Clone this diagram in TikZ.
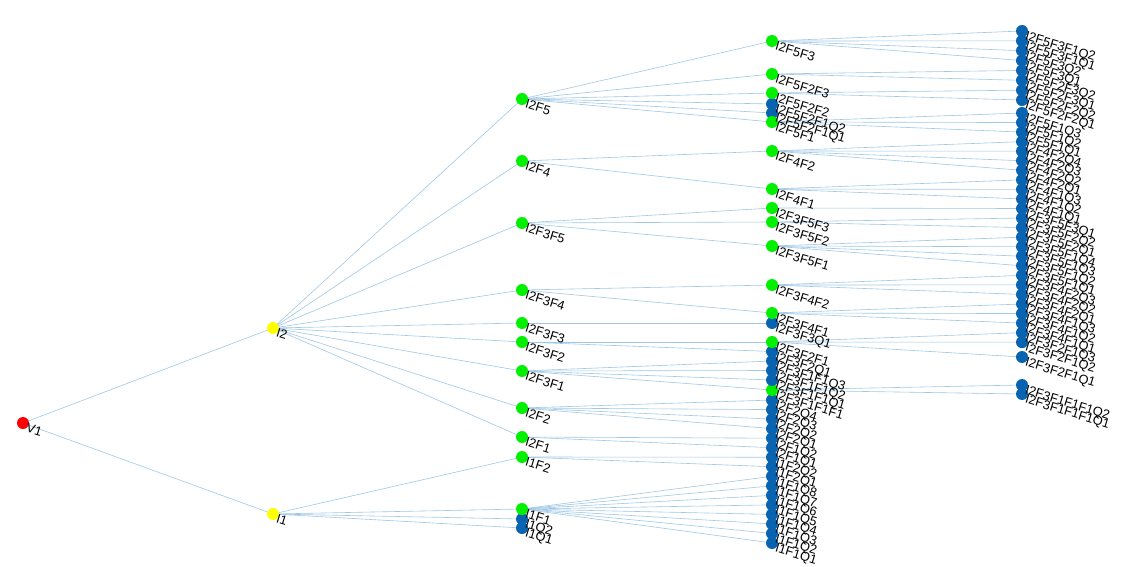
\documentclass[tikz,border=0pt]{standalone}
\usepackage{fontspec}
\setmainfont{Liberation Sans}
\definecolor{nred}{RGB}{255,0,0}
\definecolor{nyel}{RGB}{255,255,0}
\definecolor{ngrn}{RGB}{0,240,0}
\definecolor{nblu}{RGB}{8,100,176}
\definecolor{edgec}{RGB}{160,200,230}
\pgfdeclarelayer{back}\pgfdeclarelayer{bg}\pgfdeclarelayer{fg}\pgfsetlayers{back,bg,main,fg}
\tikzset{
  dot/.style={circle, inner sep=0pt, minimum size=12pt, draw=none},
  rdot/.style={dot, fill=nred},
  ydot/.style={dot, fill=nyel},
  gdot/.style={dot, fill=ngrn},
  bdot/.style={dot, fill=nblu},
  lab/.style={anchor=north west, rotate=-17, inner sep=0pt, text=black, font=\fontsize{12.8}{14}\selectfont},
  edge/.style={draw=edgec, line width=0.6pt}
}
\newcommand\N[4]{\node[#1] (#2) at (#3,#4) {};%
  \begin{pgfonlayer}{fg}\node[lab] at ([xshift=5pt,yshift=0pt]#2.center) {#2};\end{pgfonlayer}}
\newcommand\E[2]{\begin{pgfonlayer}{bg}\foreach \cc in {#2} {\draw[edge] (#1.center) -- (\cc.center);}\end{pgfonlayer}}
\begin{document}
\begin{tikzpicture}[x=1pt,y=-1pt]
\begin{pgfonlayer}{back}\fill[white] (0,0) rectangle (1127,567);\end{pgfonlayer}
\useasboundingbox (0,0) rectangle (1127,567);
% column 1-2
\N{rdot}{V1}{23}{423}
\N{ydot}{I2}{273}{328}
\N{ydot}{I1}{273}{514}
% column 3
\N{gdot}{I2F5}{522}{99}
\N{gdot}{I2F4}{522}{161}
\N{gdot}{I2F3F5}{522}{223}
\N{gdot}{I2F3F4}{522}{290}
\N{gdot}{I2F3F3}{522}{323}
\N{gdot}{I2F3F2}{522}{342}
\N{gdot}{I2F3F1}{522}{371}
\N{gdot}{I2F2}{522}{408}
\N{gdot}{I2F1}{522}{437}
\N{gdot}{I1F2}{522}{457}
\N{bdot}{I1Q1}{522}{528}
\N{bdot}{I1Q2}{522}{519}
\N{gdot}{I1F1}{522}{509}
% column 4
\N{gdot}{I2F5F3}{772}{41}
\N{gdot}{I2F5F2F3}{772}{74}
\N{bdot}{I2F5F2F1Q1}{772}{113}
\N{bdot}{I2F5F2F1Q2}{772}{104}
\N{gdot}{I2F5F2F2}{772}{93}
\N{gdot}{I2F5F1}{772}{122}
\N{gdot}{I2F4F2}{772}{151}
\N{gdot}{I2F4F1}{772}{189}
\N{gdot}{I2F3F5F3}{772}{208}
\N{gdot}{I2F3F5F2}{772}{222}
\N{gdot}{I2F3F5F1}{772}{246}
\N{gdot}{I2F3F4F2}{772}{285}
\N{bdot}{I2F3F3Q1}{772}{323}
\N{gdot}{I2F3F4F1}{772}{313}
\foreach \n [count=\i from 0] in {I1F1Q1,I1F1Q2,I1F1Q3,I1F1Q4,I1F1Q5,I1F1Q6,I1F1Q7,I1F1Q8,I1F2Q1,I1F2Q2,I2F1Q1,I2F1Q2,I2F2Q1,I2F2Q2,I2F2Q3,I2F2Q4}
  {\N{bdot}{\n}{772}{543-9.53*\i}}
\N{gdot}{I2F3F1F1F1}{772}{390}
\N{bdot}{I2F3F1F1Q1}{772}{380}
\N{bdot}{I2F3F1F1Q2}{772}{370.5}
\N{bdot}{I2F3F1F1Q3}{772}{361}
\N{bdot}{I2F3F2Q1}{772}{351.5}
\N{gdot}{I2F3F2F1}{772}{342}
% column 5
\foreach \n [count=\i from 0] in {I2F5F3F1Q2,I2F5F3F1Q1,I2F5F3Q2,I2F5F3Q1,I2F5F2F3Q2,I2F5F2F3Q1,I2F5F2F2Q2,I2F5F2F2Q1}
  {\N{bdot}{\n}{1022}{31+9.86*\i}}
\foreach \n [count=\i from 0] in {I2F5F1Q3,I2F5F1Q2,I2F5F1Q1,I2F4F2Q4,I2F4F2Q3,I2F4F2Q2,I2F4F2Q1,I2F4F1Q3,I2F4F1Q2,I2F4F1Q1,I2F3F5F3Q1,I2F3F5F2Q2,I2F3F5F2Q1,I2F3F5F1Q4,I2F3F5F1Q3,I2F3F5F1Q2,I2F3F5F1Q1,I2F3F4F2Q3,I2F3F4F2Q2,I2F3F4F2Q1,I2F3F4F1Q3,I2F3F4F1Q2,I2F3F4F1Q1,I2F3F2F1Q3,I2F3F2F1Q2}
  {\N{bdot}{\n}{1022}{113+9.55*\i}}
\N{bdot}{I2F3F2F1Q1}{1022}{357}
\N{bdot}{I2F3F1F1F1Q1}{1022}{394}
\N{bdot}{I2F3F1F1F1Q2}{1022}{385}
% edges
\E{V1}{I2,I1}
\E{I2}{I2F5,I2F4,I2F3F5,I2F3F4,I2F3F3,I2F3F2,I2F3F1,I2F2,I2F1}
\E{I1}{I1F2,I1F1,I1Q2,I1Q1}
\E{I2F5}{I2F5F3,I2F5F2F3,I2F5F2F2,I2F5F2F1Q2,I2F5F2F1Q1,I2F5F1}
\E{I2F4}{I2F4F2,I2F4F1}
\E{I2F3F5}{I2F3F5F3,I2F3F5F2,I2F3F5F1}
\E{I2F3F4}{I2F3F4F2,I2F3F4F1}
\E{I2F3F3}{I2F3F3Q1}
\E{I2F3F2}{I2F3F2F1,I2F3F2Q1}
\E{I2F3F1}{I2F3F1F1Q3,I2F3F1F1Q2,I2F3F1F1Q1,I2F3F1F1F1}
\E{I2F2}{I2F2Q4,I2F2Q3,I2F2Q2,I2F2Q1}
\E{I2F1}{I2F1Q2,I2F1Q1}
\E{I1F2}{I1F2Q2,I1F2Q1}
\E{I1F1}{I1F1Q8,I1F1Q7,I1F1Q6,I1F1Q5,I1F1Q4,I1F1Q3,I1F1Q2,I1F1Q1}
\E{I2F5F3}{I2F5F3F1Q2,I2F5F3F1Q1,I2F5F3Q2,I2F5F3Q1}
\E{I2F5F2F3}{I2F5F2F3Q2,I2F5F2F3Q1}
\E{I2F5F2F2}{I2F5F2F2Q2,I2F5F2F2Q1}
\E{I2F5F1}{I2F5F1Q3,I2F5F1Q2,I2F5F1Q1}
\E{I2F4F2}{I2F4F2Q4,I2F4F2Q3,I2F4F2Q2,I2F4F2Q1}
\E{I2F4F1}{I2F4F1Q3,I2F4F1Q2,I2F4F1Q1}
\E{I2F3F5F3}{I2F3F5F3Q1}
\E{I2F3F5F2}{I2F3F5F2Q2,I2F3F5F2Q1}
\E{I2F3F5F1}{I2F3F5F1Q4,I2F3F5F1Q3,I2F3F5F1Q2,I2F3F5F1Q1}
\E{I2F3F4F2}{I2F3F4F2Q3,I2F3F4F2Q2,I2F3F4F2Q1}
\E{I2F3F4F1}{I2F3F4F1Q3,I2F3F4F1Q2,I2F3F4F1Q1}
\E{I2F3F2F1}{I2F3F2F1Q3,I2F3F2F1Q2,I2F3F2F1Q1}
\E{I2F3F1F1F1}{I2F3F1F1F1Q2,I2F3F1F1F1Q1}
\end{tikzpicture}
\end{document}
